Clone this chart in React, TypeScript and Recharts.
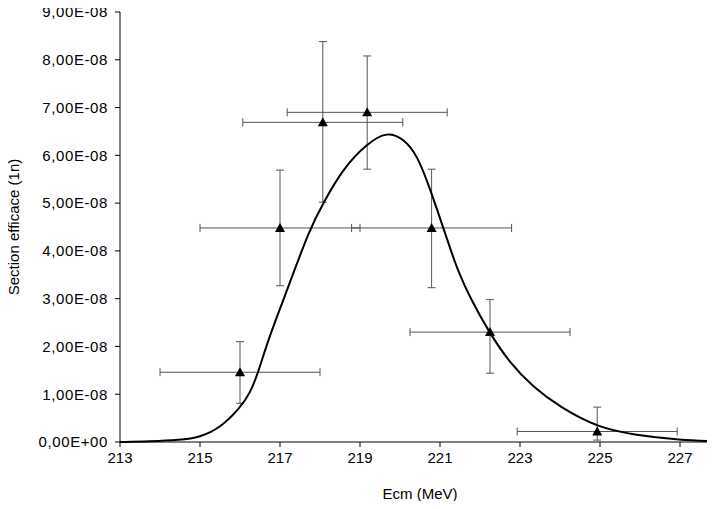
import { ComposedChart, ErrorBar, Line, Scatter, XAxis, YAxis } from "recharts";

// measured points (Ecm in MeV, cross section)
const pointX = [216.0, 217.0, 218.07, 219.18, 220.79, 222.25, 224.93];
const pointY = [1.46e-8, 4.48e-8, 6.69e-8, 6.9e-8, 4.48e-8, 2.3e-8, 0.22e-8];
const errX = [2, 2, 2, 2, 2, 2, 2];
const errYLow = [0.65e-8, 1.21e-8, 1.67e-8, 1.19e-8, 1.25e-8, 0.86e-8, 0.18e-8];
const errYHigh = [0.64e-8, 1.21e-8, 1.69e-8, 1.18e-8, 1.23e-8, 0.68e-8, 0.51e-8];

// fitted curve
const curveX = [213, 213.75, 214.5, 215, 215.5, 216, 216.25, 216.45, 216.7, 217.08, 217.75, 218.08, 218.58, 219.18, 219.68, 220.08, 220.43, 220.8, 221.25, 221.45, 221.75, 222.23, 222.75, 223.33, 224, 224.93, 225.83, 227, 228];
const curveY = [0, 0.01e-8, 0.04e-8, 0.1e-8, 0.29e-8, 0.71e-8, 1.02e-8, 1.44e-8, 2.13e-8, 2.96e-8, 4.48e-8, 5.0e-8, 5.73e-8, 6.25e-8, 6.5e-8, 6.35e-8, 6.02e-8, 5.19e-8, 4.06e-8, 3.58e-8, 3.02e-8, 2.29e-8, 1.65e-8, 1.15e-8, 0.73e-8, 0.31e-8, 0.15e-8, 0.04e-8, 0.01e-8];

const xTicks = [213, 215, 217, 219, 221, 223, 225, 227];
const yTicks = [0, 1e-8, 2e-8, 3e-8, 4e-8, 5e-8, 6e-8, 7e-8, 8e-8, 9e-8];

const points = pointX.map((x, i) => ({ x, y: pointY[i], ex: errX[i], ey: [errYLow[i], errYHigh[i]] }));
const curve = curveX.map((x, i) => ({ x, y: curveY[i] }));

const fmt = (v: number) => {
  if (Math.abs(v) < 1e-20) return "0,00E+00";
  const [m, e] = v.toExponential(2).split("e");
  const n = parseInt(e, 10);
  return m.replace(".", ",") + "E" + (n < 0 ? "-" : "+") + String(Math.abs(n)).padStart(2, "0");
};

const Triangle = (props: any) => {
  const { cx, cy } = props;
  if (cx == null || cy == null) return null;
  return <polygon points={`${cx},${cy - 5} ${cx - 5},${cy + 4} ${cx + 5},${cy + 4}`} fill="#000" />;
};

const font = { fontFamily: "'Liberation Sans', Arial, sans-serif", fontSize: 15, fill: "#000" };

export default function App() {
  return (
    <div style={{ margin: -8, width: 715, height: 509, overflow: "hidden", background: "#fff" }}>
      <ComposedChart width={720} height={509} margin={{ top: 12, right: 0, bottom: 0, left: 0 }}>
        <XAxis
          type="number"
          dataKey="x"
          domain={[213, 228]}
          ticks={xTicks}
          allowDataOverflow
          tick={font}
          tickSize={5}
          tickMargin={5}
          stroke="#000"
          height={67}
          label={{ value: "Ecm (MeV)", position: "insideBottom", offset: 10, style: font }}
        />
        <YAxis
          type="number"
          domain={[0, 9e-8]}
          ticks={yTicks}
          tickFormatter={fmt}
          tick={{ ...font, letterSpacing: 0.6 }}
          tickSize={5}
          tickMargin={7}
          stroke="#000"
          width={120}
          label={{ value: "Section efficace (1n)", angle: -90, position: "insideLeft", offset: 14, style: { ...font, textAnchor: "middle" } }}
        />
        <Scatter data={points} dataKey="y" shape={<Triangle />} isAnimationActive={false}>
          <ErrorBar dataKey="ex" direction="x" width={4} stroke="#555" strokeWidth={1} />
          <ErrorBar dataKey="ey" direction="y" width={4} stroke="#555" strokeWidth={1} />
        </Scatter>
        <Line data={curve} dataKey="y" type="basis" stroke="#000" strokeWidth={2} dot={false} isAnimationActive={false} />
      </ComposedChart>
    </div>
  );
}
